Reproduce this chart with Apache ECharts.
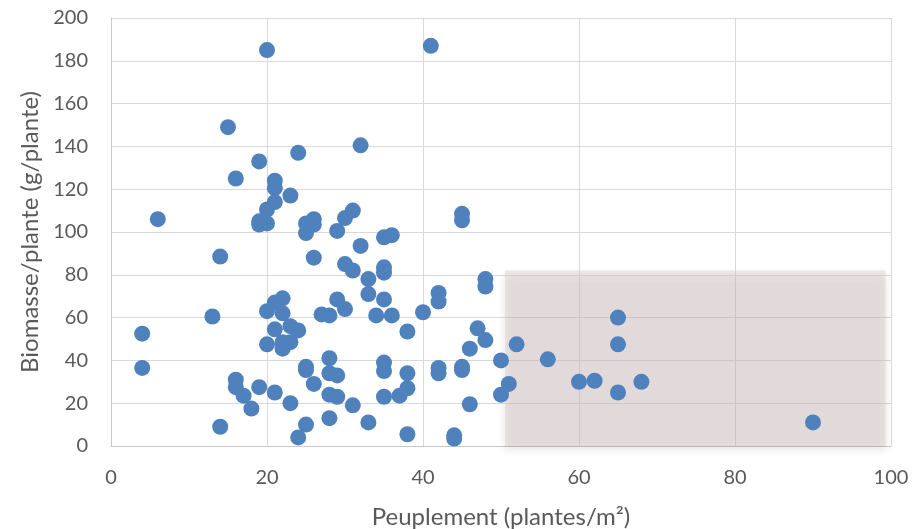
<!DOCTYPE html>
<html>
<head>
<meta charset="utf-8">
<script src="https://cdn.jsdelivr.net/npm/echarts@6/dist/echarts.min.js"></script>
<style>
  html, body { margin: 0; padding: 0; background: #fff; }
  #chart { width: 912px; height: 529px; }
</style>
</head>
<body>
<div id="chart"></div>
<script>
// densité (plantes/m²) et biomasse (g/plante)
const peuplement = [
  20, 41, 15, 24, 19, 32, 16, 21, 21, 23, 21, 20, 31, 6, 30, 19, 20, 19, 26, 25,
  26, 29, 25, 45, 45, 35, 36, 32, 14, 26, 30, 31, 35, 35, 33, 48, 48, 33, 42, 42,
  35, 29, 22, 21, 20, 22, 13, 30, 27, 28, 34, 36, 40, 38, 47, 48, 46, 50, 4, 21,
  23, 24, 20, 22, 23, 22, 4, 25, 25, 28, 28, 29, 26, 16, 16, 17, 19, 21, 18, 23,
  28, 29, 31, 33, 35, 35, 35, 38, 38, 37, 42, 42, 45, 45, 46, 14, 25, 28, 24, 38,
  44, 44, 50, 51, 52, 56, 60, 62, 65, 65, 65, 68, 90
]
const biomasse = [
  185, 187, 149, 137, 133, 140.5, 125, 124, 120.5, 117, 114, 110.5, 110, 106, 106.5, 105, 104, 103.5, 106, 104,
  103.5, 100.5, 99.5, 108.5, 105.5, 97.5, 98.5, 93.5, 88.5, 88, 85, 82, 83.5, 81, 78, 78, 74.5, 71, 71.5, 67.5,
  68.5, 68.5, 69, 67, 63, 62, 60.5, 64, 61.5, 61, 61, 61, 62.5, 53.5, 55, 49.5, 45.5, 40, 52.5, 54.5,
  56, 54, 47.5, 48.5, 48.5, 45.5, 36.5, 37, 35.5, 41, 34, 33, 29, 31, 27.5, 23.5, 27.5, 25, 17.5, 20,
  24, 23, 19, 11, 39, 35, 23, 34, 27, 23.5, 36.5, 34, 37, 35.5, 19.5, 9, 10, 13, 4, 5.5,
  5, 3.5, 24, 29, 47.5, 40.5, 30, 30.5, 60, 47.5, 25, 30, 11
]

// zone mise en évidence (coordonnées des données)
const zoneX = [50.5, 99.3]
const zoneY = [0, 82]

const xTicks = [0, 20, 40, 60, 80, 100]
const yTicks = [0, 20, 40, 60, 80, 100, 120, 140, 160, 180, 200]

const chart = echarts.init(document.getElementById('chart'))

const labelFont = 'Lato, "Open Sans", sans-serif'

chart.setOption({
  animation: false,
  textStyle: { fontFamily: labelFont },
  grid: {
    left: 111,
    right: 21,
    top: 18,
    bottom: 83,
    containLabel: false,
    outerBoundsMode: 'none'
  },
  xAxis: {
    type: 'value',
    min: xTicks[0],
    max: xTicks[xTicks.length - 1],
    interval: 20,
    name: 'Peuplement (plantes/m²)',
    nameLocation: 'middle',
    nameGap: 59,
    nameTextStyle: { color: '#595959', fontSize: 24, fontFamily: labelFont },
    axisLine: { show: true, lineStyle: { color: '#c8c8c8', width: 1 } },
    axisTick: { show: false },
    axisLabel: { color: '#595959', fontSize: 20, margin: 22, fontFamily: labelFont },
    splitLine: { show: true, lineStyle: { color: '#d9d9d9', width: 1 } }
  },
  yAxis: {
    type: 'value',
    min: yTicks[0],
    max: yTicks[yTicks.length - 1],
    interval: 20,
    name: 'Biomasse/plante (g/plante)',
    nameLocation: 'middle',
    nameGap: 68,
    nameTextStyle: { color: '#595959', fontSize: 24, fontFamily: labelFont },
    axisLine: { show: true, lineStyle: { color: '#c8c8c8', width: 1 } },
    axisTick: { show: false },
    axisLabel: { color: '#595959', fontSize: 20, margin: 23, fontFamily: labelFont },
    splitLine: { show: true, lineStyle: { color: '#d9d9d9', width: 1 } }
  },
  series: [
    {
      type: 'scatter',
      data: peuplement.map((x, i) => [x, biomasse[i]]),
      symbolSize: 16,
      itemStyle: { color: '#4f81bd', opacity: 1 },
      z: 2
    },
    // rectangle translucide par-dessus les points
    {
      type: 'scatter',
      data: [],
      z: 5,
      silent: true,
      markArea: {
        silent: true,
        itemStyle: {
          color: 'rgba(221,203,203,0.44)',
          opacity: 1,
          shadowBlur: 8,
          shadowColor: 'rgba(0,0,0,0.23)',
          shadowOffsetX: 0,
          shadowOffsetY: 4
        },
        data: [[
          { coord: [zoneX[0], zoneY[1]] },
          { coord: [zoneX[1], zoneY[0]] }
        ]]
      }
    }
  ]
})
</script>
</body>
</html>
